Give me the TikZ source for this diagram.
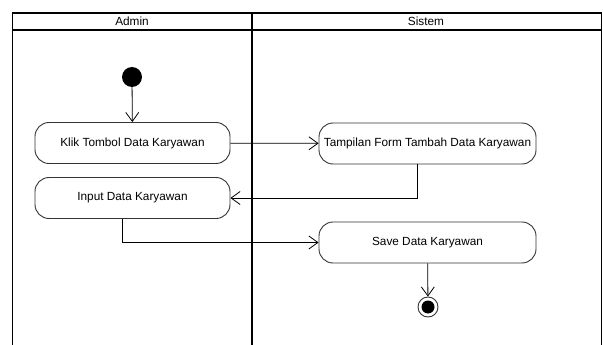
\documentclass[tikz,border=0pt]{standalone}
\usepackage{fontspec}
\setmainfont{Liberation Sans}
\usetikzlibrary{arrows.meta}
\begin{document}
\begin{tikzpicture}[>={Straight Barb[length=9pt,width=13pt]},x=1pt,y=-1pt,
	every node/.style={font=\fontsize{11.8}{13}\selectfont},
	act/.style={draw=black!80,line width=0.9pt,rounded corners=14pt,minimum height=41pt,inner sep=1pt},
	lane/.style={line width=1.8pt},
	flow/.style={->,line width=0.8pt}]
		\useasboundingbox (0,0) rectangle (603,345);
		\draw[lane] (12.5,345) -- (12.5,12.8) -- (601.5,12.8) -- (601.5,345);
		\draw[lane] (12.5,30) -- (601.5,30);
		\draw[lane] (252,12.8) -- (252,345);
		\node (admin) at (132,21.5) {Admin};
		\node (sistem) at (426,21.5) {Sistem};
		\node[circle,fill=black,minimum size=20pt,inner sep=0pt] (start) at (132,77) {};
		\node[act,minimum width=195pt] (klik) at (132.5,143) {Klik Tombol Data Karyawan};
		\node[act,minimum width=195pt] (input) at (132.5,198) {Input Data Karyawan};
		\node[act,minimum width=217pt] (tampil) at (427.5,143.5) {Tampilan Form Tambah Data Karyawan};
		\node[act,minimum width=217pt] (save) at (427.5,242.5) {Save Data Karyawan};
		\node[circle,draw=black!80,line width=0.9pt,minimum size=20pt,inner sep=0pt] (end) at (428,307) {};
		\fill[black] (end) circle (6.5pt);
		
		\draw[flow] (start) -- (klik);
		\draw[flow] (klik) -- (tampil);
		\draw[flow] ([xshift=-10pt]tampil.south) |- (input.east);
		\draw[flow] ([xshift=-10.5pt]input.south) |- (save.west);
		\draw[flow] (save) -- (end);
		
\end{tikzpicture}
\end{document}
